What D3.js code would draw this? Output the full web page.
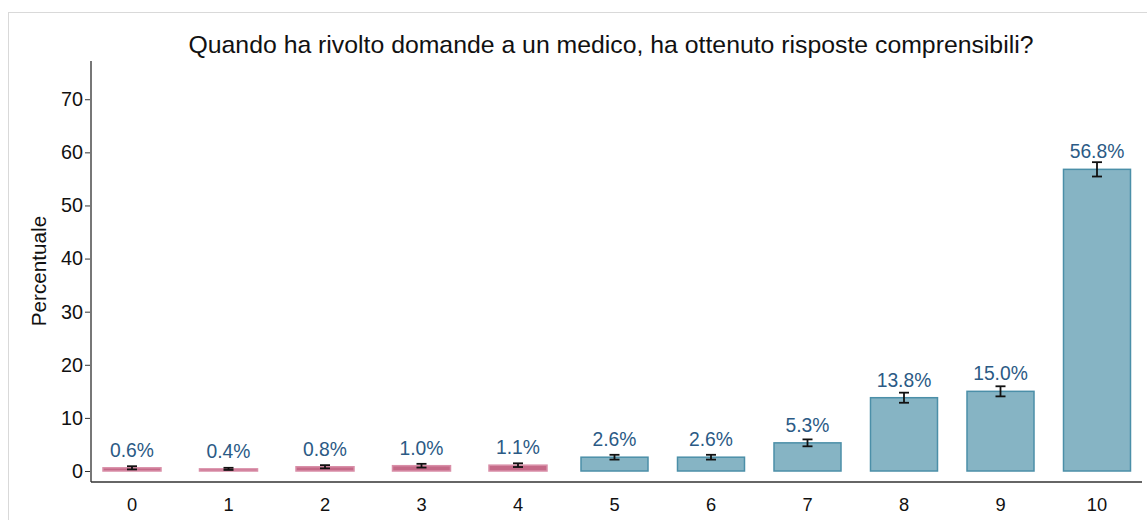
<!DOCTYPE html>
<html>
<head>
<meta charset="utf-8">
<script src="https://cdn.jsdelivr.net/npm/d3@7"></script>
<style>
  html, body { margin: 0; padding: 0; background: #fff; }
  svg { display: block; font-family: "Liberation Sans", Arial, sans-serif; }
</style>
</head>
<body>
<svg id="chart" width="1147" height="520"></svg>
<script>
const title = "Quando ha rivolto domande a un medico, ha ottenuto risposte comprensibili?";
const yLabel = "Percentuale";
const categories = ["0","1","2","3","4","5","6","7","8","9","10"];
const values = [0.6, 0.4, 0.8, 1.0, 1.1, 2.6, 2.6, 5.3, 13.8, 15.0, 56.8];
const errors = [0.3, 0.2, 0.3, 0.35, 0.35, 0.45, 0.45, 0.65, 0.95, 0.95, 1.35];
const groups = ["low","low","low","low","low","high","high","high","high","high","high"];
const valueLabels = ["0.6%","0.4%","0.8%","1.0%","1.1%","2.6%","2.6%","5.3%","13.8%","15.0%","56.8%"];
const yTicks = [0, 10, 20, 30, 40, 50, 60, 70];

const svg = d3.select("#chart");

// outer frame
svg.append("rect").attr("x", 8.5).attr("y", 12.5).attr("width", 1160).attr("height", 520)
  .attr("fill", "none").attr("stroke", "#d9d9d9").attr("stroke-width", 1);

const x = d3.scaleBand().domain(categories).range([83.75, 1145.25]).padding(0);
const y = d3.scaleLinear().domain([0, 77.2]).range([471, 61]);

const fillC = { low: "#c56a88", high: "#86b4c4" };
const strokeC = { low: "#d98fa8", high: "#4b8fa8" };
const widthC = { low: 58, high: 67 };

const data = categories.map((c, i) => ({ c, v: values[i], e: errors[i], g: groups[i], l: valueLabels[i] }));

// bars
svg.append("g").selectAll("rect").data(data).join("rect")
  .attr("x", d => x(d.c) + x.bandwidth() / 2 - widthC[d.g] / 2)
  .attr("width", d => widthC[d.g])
  .attr("y", d => y(d.v))
  .attr("height", d => y(0) - y(d.v))
  .attr("fill", d => fillC[d.g])
  .attr("stroke", d => strokeC[d.g])
  .attr("stroke-width", 1.5);

// error bars
const eg = svg.append("g").attr("stroke", "#111").attr("stroke-width", 1.8);
data.forEach(d => {
  const cx = x(d.c) + x.bandwidth() / 2;
  eg.append("line").attr("x1", cx).attr("x2", cx).attr("y1", y(d.v + d.e)).attr("y2", y(d.v - d.e));
  eg.append("line").attr("x1", cx - 5).attr("x2", cx + 5).attr("y1", y(d.v + d.e)).attr("y2", y(d.v + d.e));
  eg.append("line").attr("x1", cx - 5).attr("x2", cx + 5).attr("y1", y(d.v - d.e)).attr("y2", y(d.v - d.e));
});

// value labels
svg.append("g").selectAll("text").data(data).join("text")
  .attr("x", d => x(d.c) + x.bandwidth() / 2)
  .attr("y", d => y(d.v) - 11)
  .attr("text-anchor", "middle")
  .attr("font-size", "19.3px")
  .attr("fill", "#2b5a85")
  .text(d => d.l);

// y axis
const yAxis = d3.axisLeft(y).tickValues(yTicks).tickSize(6).tickSizeOuter(0).tickPadding(2);
const ya = svg.append("g").attr("transform", "translate(91,0)").call(yAxis);
ya.select(".domain").remove();
ya.append("line").attr("x1", 0).attr("x2", 0).attr("y1", 61).attr("y2", 482)
  .attr("stroke", "#777").attr("stroke-width", 2);
ya.selectAll(".tick line").attr("stroke", "#333").attr("stroke-width", 1);
ya.selectAll(".tick text").attr("font-size", "19.8px").attr("fill", "#111")
  .attr("font-family", "Liberation Sans, Arial, sans-serif");

// x axis
const xAxis = d3.axisBottom(x).tickSize(0).tickPadding(16);
const xa = svg.append("g").attr("transform", "translate(0,482)").call(xAxis);
xa.select(".domain").remove();
xa.append("line").attr("x1", 91).attr("x2", 1142).attr("y1", 0).attr("y2", 0)
  .attr("stroke", "#333").attr("stroke-width", 1.5);
xa.selectAll(".tick text").attr("font-size", "18.3px").attr("fill", "#111")
  .attr("font-family", "Liberation Sans, Arial, sans-serif");

// title
svg.append("text").attr("x", 611).attr("y", 53).attr("text-anchor", "middle")
  .attr("font-size", "24.8px").attr("fill", "#111").text(title);

// y label
svg.append("text").attr("transform", "translate(46,271) rotate(-90)")
  .attr("text-anchor", "middle").attr("font-size", "20.7px").attr("fill", "#111").text(yLabel);
</script>
</body>
</html>
